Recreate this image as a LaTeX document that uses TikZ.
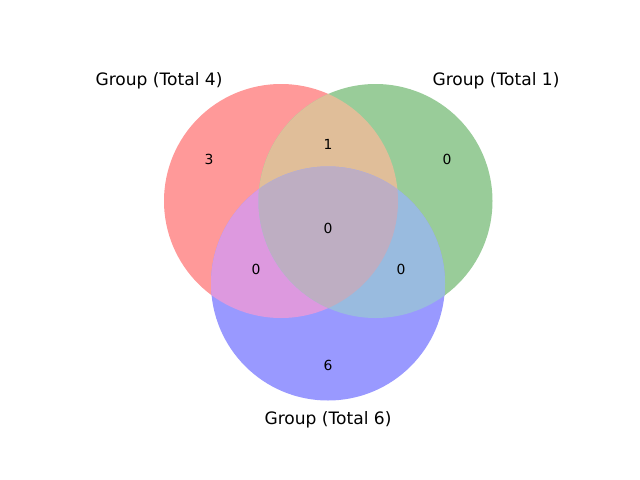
\documentclass[tikz,border=0pt]{standalone}
\usepackage{fontspec}
\setmainfont{DejaVu Sans}
\usepackage{tikz}
\definecolor{vred}{RGB}{255,153,153}
\definecolor{vgreen}{RGB}{153,204,153}
\definecolor{vblue}{RGB}{153,153,255}
\definecolor{vrg}{RGB}{224,190,153}
\definecolor{vrb}{RGB}{221,153,223}
\definecolor{vgb}{RGB}{153,187,223}
\definecolor{vrgb}{RGB}{190,174,194}

\begin{document}
\begin{tikzpicture}[x=0.72pt,y=-0.72pt]
		\tikzstyle{every node}+=[inner sep=0pt]
		\tikzstyle{count}=[font=\fontsize{10}{12}\selectfont]
		\tikzstyle{setlabel}=[font=\fontsize{12.3}{14}\selectfont]
		\useasboundingbox (0,0) rectangle (640,480);
		\coordinate (cr) at (281,201);
		\coordinate (cg) at (375.5,201);
		\coordinate (cb) at (328,283.5);
		\fill [vred] (cr) circle (117);
		\fill [vgreen] (cg) circle (117);
		\fill [vblue] (cb) circle (117);
		\begin{scope}
			\clip (cr) circle (117);
			\fill [vrg] (cg) circle (117);
			\fill [vrb] (cb) circle (117);
		\end{scope}
		\begin{scope}
			\clip (cg) circle (117);
			\fill [vgb] (cb) circle (117);
		\end{scope}
		\begin{scope}
			\clip (cr) circle (117);
			\clip (cg) circle (117);
			\fill [vrgb] (cb) circle (117);
		\end{scope}
		\node [count] (n100) at (209,159) {3};
		\node [count] (n010) at (447,159) {0};
		\node [count] (n110) at (328,144) {1};
		\node [count] (n111) at (328,228) {0};
		\node [count] (n101) at (256,269) {0};
		\node [count] (n011) at (401,269) {0};
		\node [count] (n001) at (328,365) {6};
		\node [setlabel] (la) at (159,81) {Group (Total 4)};
		\node [setlabel] (lb) at (496,81) {Group (Total 1)};
		\node [setlabel] (lc) at (328,420) {Group (Total 6)};
	\end{tikzpicture}
\end{document}
